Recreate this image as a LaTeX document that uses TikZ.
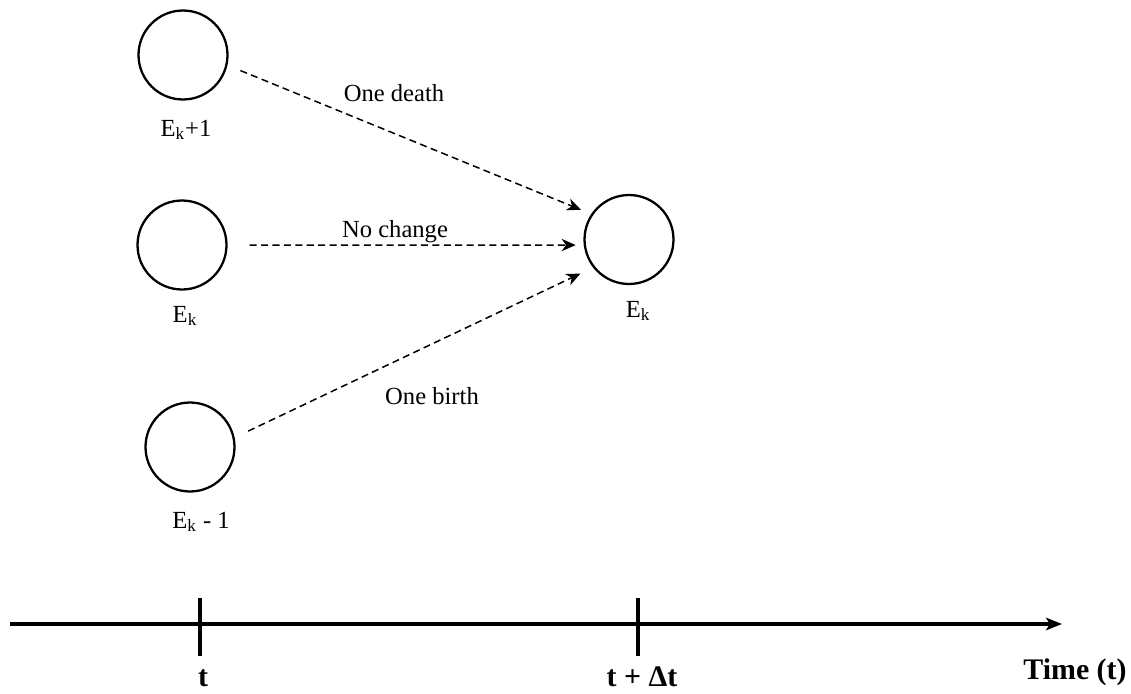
\documentclass[tikz,border=0pt]{standalone}
\usepackage{fontspec}
\setmainfont{Liberation Serif}
\usetikzlibrary{arrows.meta,positioning}

\begin{document}
\begin{tikzpicture}[
    x=0.02cm, y=-0.02cm,
    state/.style={circle, draw, line width=1.3pt, minimum size=1.78cm, inner sep=0pt},
    lbl/.style={anchor=base, inner sep=0pt, font=\fontsize{14}{16}\selectfont},
    tlbl/.style={anchor=base, inner sep=0pt, font=\fontsize{17}{20}\selectfont\bfseries},
    trans/.style={-{Stealth[length=8pt,width=7pt,inset=2.5pt]}, dash pattern=on 4pt off 2.5pt, line width=0.85pt},
    axis/.style={-{Stealth[length=9pt,width=7pt,inset=2pt]}, line width=1.8pt},
    tick/.style={line width=1.9pt}
]
    \useasboundingbox (0,0) rectangle (1131,693);

    % states at time t
    \node [state] (up) at (183,55) {};
    \node [state] (mid) at (182,245) {};
    \node [state] (down) at (190,447) {};
    % state at time t + dt
    \node [state] (ek) at (629,239.5) {};

    \node [lbl] (upl) at (186,136) {E\textsubscript{k}+1};
    \node [lbl] (midl) at (185,322) {E\textsubscript{k}};
    \node [lbl] (downl) at (201,528) {E\textsubscript{k} - 1};
    \node [lbl] (ekl) at (638,317) {E\textsubscript{k}};

    % transitions
    \draw [trans, shorten <=0.28cm, shorten >=0.22cm] (up.-13) -- (ek.146);
    \draw [trans, shorten <=0.44cm, shorten >=0.16cm] (mid.east) -- (ek.187);
    \draw [trans, shorten <=0.30cm, shorten >=0.28cm] (down.12) -- (ek.218);

    \node [lbl] (death) at (394,101) {One death};
    \node [lbl] (same) at (395,237) {No change};
    \node [lbl] (birth) at (432,404) {One birth};

    % time axis
    \coordinate (a0) at (10,624);
    \coordinate (a1) at (1062,624);
    \draw [axis] (a0) -- (a1);
    \coordinate (t0top) at (200,598);
    \coordinate (t0bot) at (200,656);
    \coordinate (t1top) at (638,598);
    \coordinate (t1bot) at (638,656);
    \draw [tick] (t0top) -- (t0bot);
    \draw [tick] (t1top) -- (t1bot);

    \node [tlbl] (tl) at (203,686) {t};
    \node [tlbl] (tdl) at (642,686) {t + Δt};
    \node [tlbl] (timel) at (1075,679) {Time (t)};
\end{tikzpicture}
\end{document}
